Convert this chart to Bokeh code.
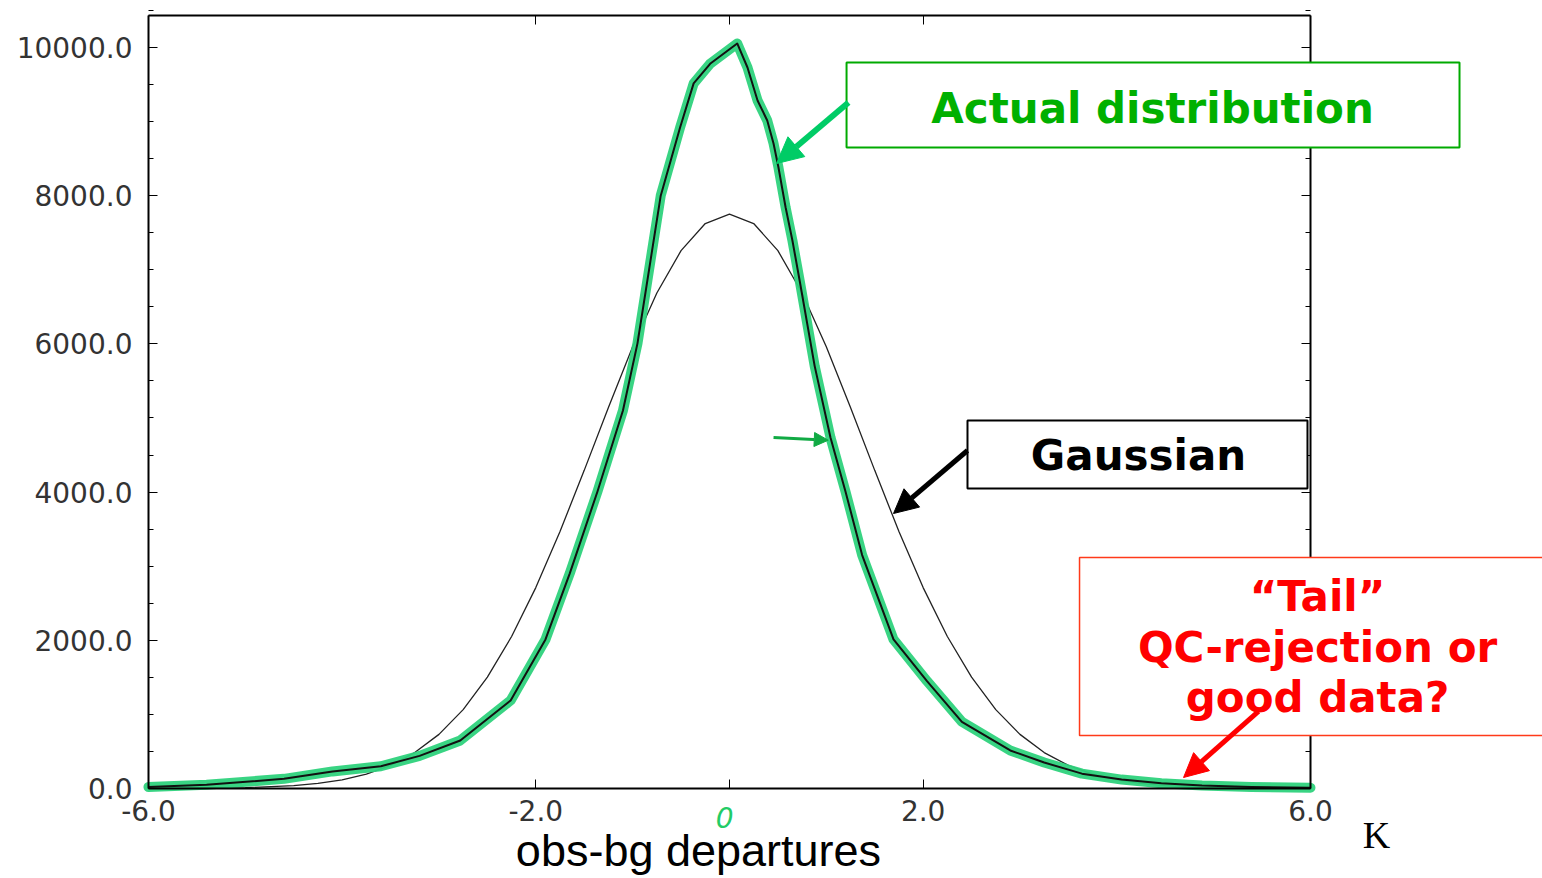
from bokeh.plotting import figure
from bokeh.models import (Range1d, LinearAxis, FixedTicker,
                          BoxAnnotation, Label, Arrow, NormalHead, PrintfTickFormatter)
from bokeh.embed import file_html
from bokeh.resources import INLINE

# ---- data ----
actual_x = [-6.0, -5.4, -4.6, -4.1, -3.6, -3.2, -2.78, -2.26, -1.9, -1.65, -1.363, -1.1,
            -0.95, -0.71, -0.51, -0.37, -0.2, 0.08, 0.186, 0.29, 0.39, 0.455, 0.506, 0.58,
            0.65, 0.73, 0.88, 1.043, 1.198, 1.37, 1.694, 2.04, 2.4, 2.9, 3.25, 3.64, 4.05,
            4.46, 4.88, 5.39, 6.0]
actual_y = [20, 50, 130, 230, 300, 440, 648, 1188, 2011, 2900, 4008, 5100,
            6007, 8000, 8920, 9515, 9780, 10054, 9730, 9285, 9015, 8705, 8380, 7840,
            7395, 6815, 5700, 4737, 4008, 3150, 2011, 1450, 900, 513, 350, 200, 120,
            70, 40, 20, 10]

gauss_x = [-6.0, -5.5, -5.0, -4.5, -4.25, -4.0, -3.75, -3.5, -3.25, -3.0, -2.75, -2.5,
           -2.25, -2.0, -1.75, -1.5, -1.25, -1.0, -0.75, -0.5, -0.25, 0.0,
           0.25, 0.5, 0.75, 1.0, 1.25, 1.5, 1.75, 2.0, 2.25, 2.5, 2.75, 3.0, 3.25,
           3.5, 3.75, 4.0, 4.25, 4.5, 5.0, 5.5, 6.0]
gauss_y = [1, 3, 11, 38, 68, 116, 193, 311, 484, 730, 1064, 1502,
           2051, 2711, 3468, 4293, 5142, 5962, 6686, 7258, 7624, 7750,
           7624, 7258, 6686, 5962, 5142, 4293, 3468, 2711, 2051, 1502, 1064, 730, 484,
           311, 193, 116, 68, 38, 11, 3, 1]

x_ticks = [-6.0, -2.0, 0.0, 2.0, 6.0]
x_tick_labels = {-6.0: "-6.0", -2.0: "-2.0", 0.0: "", 2.0: "2.0", 6.0: "6.0"}
y_ticks = [0, 2000, 4000, 6000, 8000, 10000]
y_minor = [500, 1000, 1500, 2500, 3000, 3500, 4500, 5000, 5500, 6500, 7000, 7500,
           8500, 9000, 9500, 10500]

X_MIN, X_MAX = -6.0, 6.0
Y_MIN, Y_MAX = 0.0, 10430.0

# ---- figure: the frame covers the whole canvas, axes sit at fixed locations ----
p = figure(width=1542, height=878, x_range=Range1d(-7.528, 8.396),
           y_range=Range1d(-1215, 10634), output_backend="svg", toolbar_location=None,
           x_axis_location=None, y_axis_location=None, min_border=0)
p.xgrid.visible = False
p.ygrid.visible = False
p.outline_line_color = None
p.background_fill_color = "white"
p.border_fill_color = "white"

tick_font = "DejaVu Sans"
lab_col = "#333333"
note_font = "DejaVu Sans"

left = LinearAxis(fixed_location=X_MIN, bounds=(Y_MIN, Y_MAX),
                  ticker=FixedTicker(ticks=y_ticks, minor_ticks=y_minor),
                  formatter=PrintfTickFormatter(format="%.1f"),
                  major_tick_in=9, major_tick_out=0, minor_tick_in=5, minor_tick_out=0,
                  axis_line_width=2, major_label_text_font=tick_font,
                  major_label_text_font_size="28px", major_label_text_color=lab_col,
                  major_label_standoff=16)
p.add_layout(left, "left")

right = LinearAxis(fixed_location=X_MAX, bounds=(Y_MIN, Y_MAX),
                   ticker=FixedTicker(ticks=y_ticks, minor_ticks=y_minor),
                   major_label_overrides={t: "" for t in y_ticks},
                   major_tick_in=9, major_tick_out=0, minor_tick_in=5, minor_tick_out=0,
                   axis_line_width=2)
p.add_layout(right, "right")

bottom = LinearAxis(fixed_location=Y_MIN, bounds=(X_MIN, X_MAX),
                    ticker=FixedTicker(ticks=x_ticks, minor_ticks=[]),
                    major_label_overrides=x_tick_labels,
                    major_tick_in=9, major_tick_out=0, axis_line_width=2,
                    major_label_text_font=tick_font, major_label_text_font_size="28px",
                    major_label_text_color=lab_col, major_label_standoff=12)
p.add_layout(bottom, "below")

top = LinearAxis(fixed_location=Y_MAX, bounds=(X_MIN, X_MAX),
                 ticker=FixedTicker(ticks=x_ticks, minor_ticks=[]),
                 major_label_overrides={t: "" for t in x_ticks},
                 major_tick_in=9, major_tick_out=0, axis_line_width=2)
p.add_layout(top, "above")

# ---- curves ----
p.line(gauss_x, gauss_y, line_color="#222222", line_width=1.3)
p.line(actual_x, actual_y, line_color="#2ed27c", line_width=10, line_alpha=0.95,
       line_join="round", line_cap="round")
p.line(actual_x, actual_y, line_color="#111111", line_width=2, line_join="round")

# ---- annotations ----
p.add_layout(Label(x=-0.05, y=-390, text="0", text_align="center", text_baseline="middle",
                   text_font=tick_font, text_font_size="28px", text_font_style="italic",
                   text_color="#22cc66"))

p.add_layout(Arrow(x_start=0.455, y_start=4737, x_end=1.02, y_end=4700,
                   line_color="#11aa44", line_width=3,
                   end=NormalHead(size=14, fill_color="#11aa44", line_color="#11aa44")))

# Actual distribution
p.add_layout(BoxAnnotation(left=1.209, right=7.539, bottom=8650, top=9797,
                           fill_color="white", fill_alpha=1.0, line_color="#00aa00",
                           line_alpha=1.0, line_width=2))
p.add_layout(Label(x=4.369, y=9177, text="Actual distribution", text_align="center",
                   text_baseline="middle", text_font=note_font,
                   text_font_size="42px", text_font_style="bold", text_color="#00b000"))
p.add_layout(Arrow(x_start=1.229, y_start=9258, x_end=0.486, y_end=8434,
                   line_color="#00cc66", line_width=6,
                   end=NormalHead(size=26, fill_color="#00cc66", line_color="#00cc66")))

# Gaussian
p.add_layout(BoxAnnotation(left=2.458, right=5.969, bottom=4049, top=4966,
                           fill_color="white", fill_alpha=1.0, line_color="black",
                           line_alpha=1.0, line_width=2))
p.add_layout(Label(x=4.224, y=4494, text="Gaussian", text_align="center",
                   text_baseline="middle", text_font=note_font,
                   text_font_size="42px", text_font_style="bold", text_color="black"))
p.add_layout(Arrow(x_start=2.458, y_start=4561, x_end=1.694, y_end=3711,
                   line_color="black", line_width=5,
                   end=NormalHead(size=24, fill_color="black", line_color="black")))

# Tail
p.add_layout(BoxAnnotation(left=3.615, right=8.6, bottom=715, top=3117,
                           fill_color="white", fill_alpha=1.0, line_color="#ff3a1a",
                           line_alpha=1.0, line_width=1.5))
for t, yy in [("\u201cTail\u201d", 2591), ("QC-rejection or", 1903), ("good data?", 1228)]:
    p.add_layout(Label(x=6.073, y=yy, text=t, text_align="center", text_baseline="middle",
                       text_font=note_font, text_font_size="42px",
                       text_font_style="bold", text_color="#ff0000"))
p.add_layout(Arrow(x_start=5.463, y_start=1039, x_end=4.689, y_end=148,
                   line_color="#ff0000", line_width=5,
                   end=NormalHead(size=24, fill_color="#ff0000", line_color="#ff0000")))

# axis title and unit
p.add_layout(Label(x=-0.32, y=-840, text="obs-bg departures", text_align="center",
                   text_baseline="middle", text_font="Liberation Sans",
                   text_font_size="45px", text_color="black"))
p.add_layout(Label(x=6.682, y=-634, text="K", text_align="center",
                   text_baseline="middle", text_font="Liberation Serif",
                   text_font_size="38px", text_color="black"))

open("out.html", "w").write(file_html(p, INLINE))
